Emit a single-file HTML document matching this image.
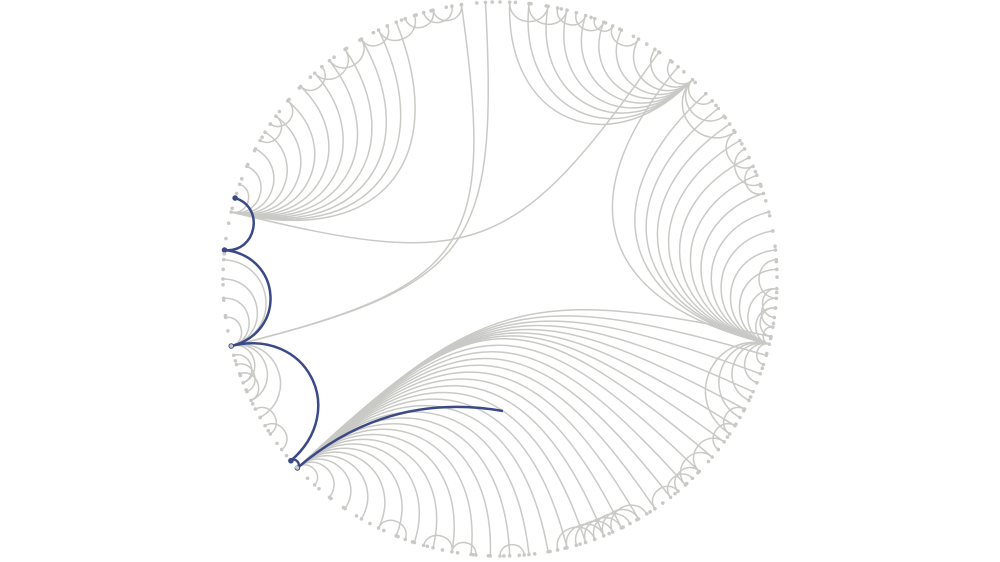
<!DOCTYPE html>
<html><head><meta charset="utf-8"><style>
html,body{margin:0;padding:0;background:#fff;width:1000px;height:562px;overflow:hidden;font-family:"Liberation Sans",sans-serif}
</style></head><body>
<svg id="chart" width="1000" height="562" viewBox="0 0 1000 562">
<g id="edges"></g>
<g id="hl"></g>
<g id="nodes"></g>
</svg>
<script>
// node angles (degrees clockwise from top)
const hubBL = 227, hubR = 103.6, hubTR = 44, hubL = 284, hubL2 = 256, hubT = 357;
const targetsBL = [102,106,110,114,118,122,126,130,134,138,142,146,150,154,158,162,166,170,174,178,182,186,190,194,198,202,206,210,214,218,222];
const targetsR = [40,48,52,56,60,64,68,72,76,80,84,88,92,96,100,108,112,116,120,124];
const targetsTR = [2,6,10,14,18,22,26,30,34,38,50,54,58];
const targetsL = [290,294,298,302,306,310,314,318,322,326,330,334,338,35];
const targetsL2 = [240,244,248,262,266,270,274,357,352];
const localPairs = [[150,158],[152,160],[154,162],[156,164],[158,166],[160,168],[148,156],[190,196],[200,206],[175,180],[185,190],[232,238],[236,242],[244,250],[246,252],[248,254],[300,306],[304,310],[314,320],[318,326],[322,330],[330,336],[334,342],[340,346],[344,350],[346,352],[2,10],[6,14],[12,18],[16,22],[20,24],[24,30],[94,100],[96,102],[92,98],[86,94],[118,124],[122,128],[126,134],[130,138],[134,140],[58,66],[62,70],[66,72],[136,142],[140,146]];
const blueChain = [287,276,256,229,227];
const blueEnd = [503,411];

const cx=500, cy=279, R=277;
function pt(a,r){const t=a*Math.PI/180;return [cx+(r||R)*Math.sin(t), cy-(r||R)*Math.cos(t)];}
function edgePath(a1,a2){
  const p1=pt(a1),p2=pt(a2);
  let sep=Math.abs(a1-a2)%360; if(sep>180) sep=360-sep;
  const k=Math.max(0.1,1-1.2*Math.sin(sep*Math.PI/360));
  const c1=[cx+k*(p1[0]-cx),cy+k*(p1[1]-cy)], c2=[cx+k*(p2[0]-cx),cy+k*(p2[1]-cy)];
  return `M${p1[0]},${p1[1]} C${c1[0]},${c1[1]} ${c2[0]},${c2[1]} ${p2[0]},${p2[1]}`;
}
const NS="http://www.w3.org/2000/svg";
const eg=document.getElementById('edges');
const allNodes=new Set();
function addEdge(a,b){
  allNodes.add(a);allNodes.add(b);
  const p=document.createElementNS(NS,'path');
  p.setAttribute('d',edgePath(a,b));
  p.setAttribute('fill','none');p.setAttribute('stroke','#c9c9c5');p.setAttribute('stroke-width','1.5');
  
  
  eg.appendChild(p);
}
targetsBL.forEach(t=>addEdge(hubBL,t));
targetsR.forEach(t=>addEdge(hubR,t));
targetsTR.forEach(t=>addEdge(hubTR,t));
targetsL.forEach(t=>addEdge(hubL,t));
targetsL2.forEach(t=>addEdge(hubL2,t));
localPairs.forEach(pr=>addEdge(pr[0],pr[1]));
for(let a=0;a<360;a+=3.2) allNodes.add(a);
const ng=document.getElementById('nodes');
allNodes.forEach(a=>{
  const p=pt(a);const c=document.createElementNS(NS,'circle');
  c.setAttribute('cx',p[0]);c.setAttribute('cy',p[1]);c.setAttribute('r',1.8);c.setAttribute('fill','#c9c9c5');
  
  
  ng.appendChild(c);
});
const hg=document.getElementById('hl');
for(let i=0;i<blueChain.length-1;i++){
  const p=document.createElementNS(NS,'path');
  p.setAttribute('d',edgePath(blueChain[i],blueChain[i+1]));
  p.setAttribute('fill','none');p.setAttribute('stroke','#3b4a86');p.setAttribute('stroke-width','2.5');
  
  
  hg.appendChild(p);
}
const s=pt(blueChain[blueChain.length-1]);
const tail=document.createElementNS(NS,'path');
tail.setAttribute('d',`M${s[0]},${s[1]} Q${s[0]+90},${blueEnd[1]-20} ${blueEnd[0]},${blueEnd[1]}`);
tail.setAttribute('fill','none');tail.setAttribute('stroke','#3b4a86');tail.setAttribute('stroke-width','2.5');


hg.appendChild(tail);
blueChain.forEach(a=>{
  const p=pt(a);const c=document.createElementNS(NS,'circle');
  c.setAttribute('cx',p[0]);c.setAttribute('cy',p[1]);c.setAttribute('r',2.8);c.setAttribute('fill','#3b4a86');
  
  
  hg.appendChild(c);
});
</script>
</body></html>
